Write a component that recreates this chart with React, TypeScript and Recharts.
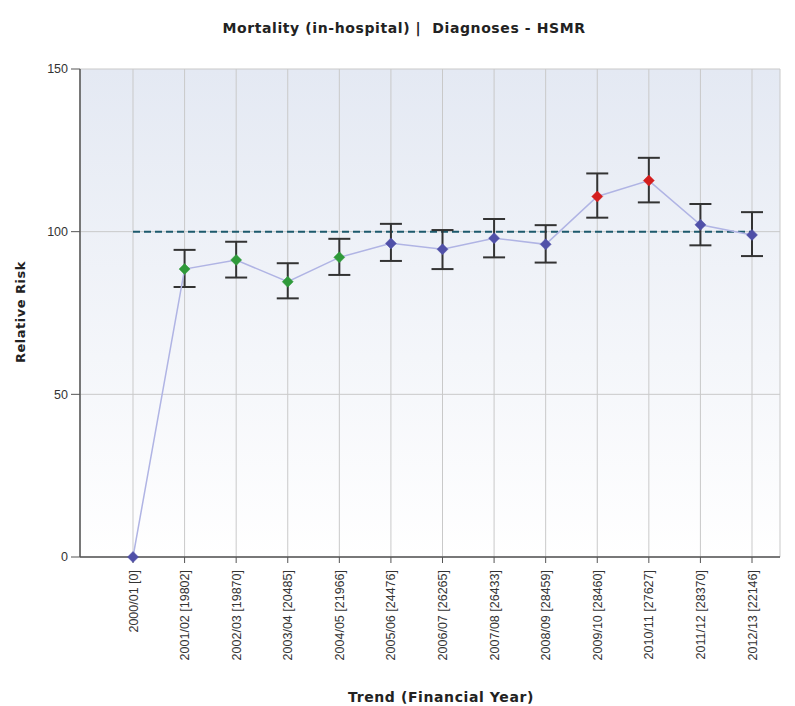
import React from 'react';
import {
  CartesianGrid,
  ComposedChart,
  ErrorBar,
  Line,
  XAxis,
  YAxis,
} from 'recharts';

const years = [
  '2000/01', '2001/02', '2002/03', '2003/04', '2004/05', '2005/06', '2006/07',
  '2007/08', '2008/09', '2009/10', '2010/11', '2011/12', '2012/13',
];
const counts = [0, 19802, 19870, 20485, 21966, 24476, 26265, 26433, 28459, 28460, 27627, 28370, 22146];
const relativeRisk = [0, 88.5, 91.3, 84.6, 92.1, 96.4, 94.6, 98.0, 96.1, 110.8, 115.7, 102.1, 99.0];
const lowerCI = [null, 83.0, 85.9, 79.5, 86.7, 91.0, 88.5, 92.1, 90.5, 104.3, 109.0, 95.8, 92.5];
const upperCI = [null, 94.4, 96.9, 90.3, 97.8, 102.4, 100.5, 103.9, 102.0, 117.9, 122.7, 108.5, 106.0];
// low = significantly below, avg = as expected, high = significantly above
const status = ['avg', 'low', 'low', 'low', 'low', 'avg', 'avg', 'avg', 'avg', 'high', 'high', 'avg', 'avg'];
const benchmark = [100, 100, 100, 100, 100, 100, 100, 100, 100, 100, 100, 100, 100];

const STATUS_COLORS: Record<string, string> = {
  low: '#2f9a3a',
  avg: '#5050a8',
  high: '#d41e1e',
};

const FONT = '"DejaVu Sans", Verdana, sans-serif';
const TICK_FONT = '"Liberation Sans", Arial, sans-serif';

const data = years.map((y, i) => ({
  name: `${y} [${counts[i]}]`,
  rr: relativeRisk[i],
  err: lowerCI[i] == null ? null : [relativeRisk[i] - (lowerCI[i] as number), (upperCI[i] as number) - relativeRisk[i]],
  benchmark: benchmark[i],
  status: status[i],
}));

const Diamond = (props: any) => {
  const { cx, cy, payload, index } = props;
  if (cx == null || cy == null) return <g key={`d-${index}`} />;
  const r = 5.5;
  return (
    <path
      key={`d-${index}`}
      d={`M${cx},${cy - r} L${cx + r},${cy} L${cx},${cy + r} L${cx - r},${cy} Z`}
      fill={STATUS_COLORS[payload.status]}
      stroke={STATUS_COLORS[payload.status]}
      strokeWidth={0.5}
    />
  );
};

const XTick = (props: any) => {
  const { x, y, payload } = props;
  return (
    <text
      x={0}
      y={0}
      transform={`translate(${x + 4.5},${y + 5}) rotate(-90)`}
      textAnchor="end"
      fontSize={12.5}
      fill="#333"
      fontFamily={TICK_FONT}
    >
      {payload.value}
    </text>
  );
};

export default function App() {
  return (
    <div style={{ position: 'absolute', left: 0, top: 0, width: 795, height: 706, background: '#fff' }}>
      <ComposedChart
        width={795}
        height={706}
        data={data}
        margin={{ top: 69, right: 15, left: 0, bottom: 0 }}
      >
        <defs>
          <linearGradient id="plotBg" x1="0" y1="0" x2="0" y2="1">
            <stop offset="0%" stopColor="#e4e9f3" />
            <stop offset="100%" stopColor="#ffffff" />
          </linearGradient>
        </defs>
        <text
          x={404}
          y={33}
          textAnchor="middle"
          fontSize={14}
          fontWeight="bold"
          letterSpacing={0.6}
          fill="#222"
          fontFamily={FONT}
          style={{ whiteSpace: 'pre' }}
        >
          Mortality (in-hospital) |  Diagnoses - HSMR
        </text>
        <text
          x={0}
          y={0}
          transform="translate(25,312) rotate(-90)"
          textAnchor="middle"
          fontSize={13}
          fontWeight="bold"
          letterSpacing={0.5}
          fill="#222"
          fontFamily={FONT}
        >
          Relative Risk
        </text>
        <text
          x={441}
          y={702}
          textAnchor="middle"
          fontSize={14}
          fontWeight="bold"
          letterSpacing={0.6}
          fill="#222"
          fontFamily={FONT}
        >
          Trend (Financial Year)
        </text>
        <CartesianGrid stroke="#c9c9c9" fill="url(#plotBg)" />
        <XAxis
          dataKey="name"
          scale="point"
          padding={{ left: 53, right: 28 }}
          height={149}
          interval={0}
          tick={<XTick />}
          tickSize={6}
          axisLine={{ stroke: '#555', strokeWidth: 1.5 }}
          tickLine={{ stroke: '#555' }}
        />
        <YAxis
          domain={[0, 150]}
          ticks={[0, 50, 100, 150]}
          width={80}
          tickSize={9}
          tickMargin={3}
          axisLine={{ stroke: '#555', strokeWidth: 1.5 }}
          tickLine={{ stroke: '#555' }}
          tick={{ fontSize: 12.5, fill: '#333', fontFamily: TICK_FONT }}
        />
        <Line
          dataKey="benchmark"
          stroke="#1d5a6c"
          strokeWidth={2}
          strokeDasharray="7 4"
          dot={false}
          activeDot={false}
          isAnimationActive={false}
        />
        <Line
          dataKey="rr"
          stroke="#b0b4e4"
          strokeWidth={1.5}
          dot={<Diamond />}
          activeDot={false}
          isAnimationActive={false}
        >
          <ErrorBar dataKey="err" width={11} stroke="#333" strokeWidth={2} direction="y" />
        </Line>
      </ComposedChart>
    </div>
  );
}
